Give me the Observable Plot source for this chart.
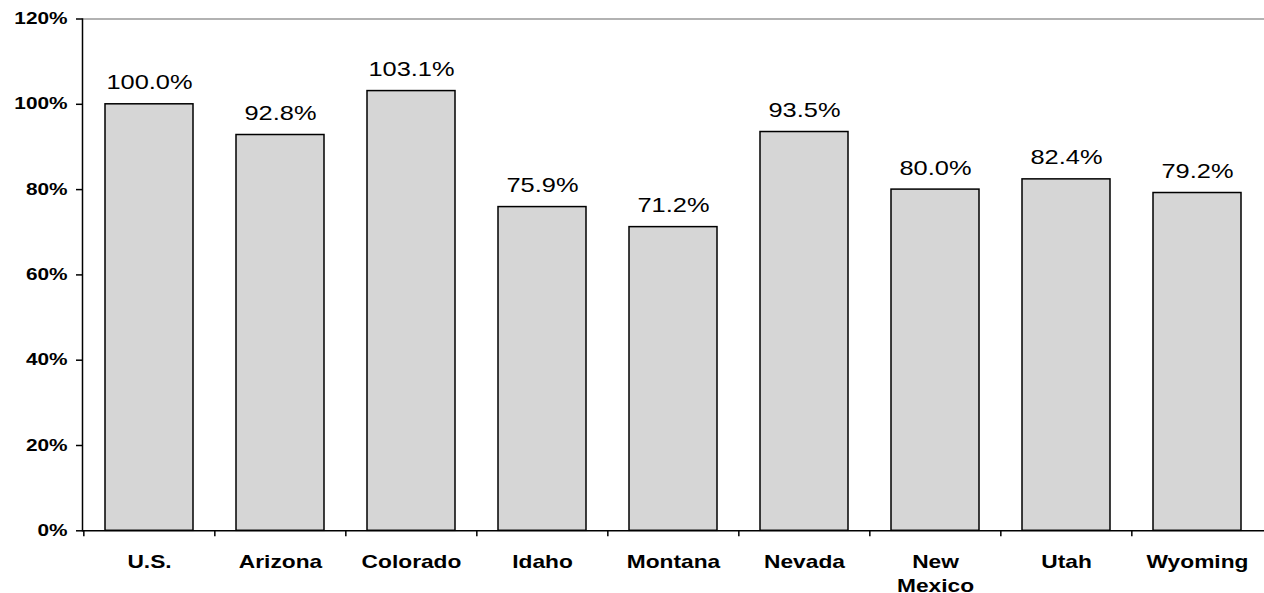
<!DOCTYPE html>
<html>
<head>
<meta charset="utf-8">
<script src="https://cdn.jsdelivr.net/npm/d3@7"></script>
<script src="https://cdn.jsdelivr.net/npm/@observablehq/plot@0.6"></script>
<style>
  html, body { margin: 0; padding: 0; background: #fff; }
  #chart svg { display: block; }
</style>
</head>
<body>
<div id="chart"></div>
<script>
const categories = ["U.S.", "Arizona", "Colorado", "Idaho", "Montana", "Nevada", "New\nMexico", "Utah", "Wyoming"];
const values = [100.0, 92.8, 103.1, 75.9, 71.2, 93.5, 80.0, 82.4, 79.2];
const yTicks = [0, 20, 40, 60, 80, 100, 120];

const data = categories.map((c, i) => ({category: c, value: values[i]}));

const W = 1264, H = 593, ML = 82, MR = 0;
const step = (W - ML - MR) / categories.length;
const font = "'Liberation Sans', Arial, sans-serif";

const chart = Plot.plot({
  width: W,
  height: H,
  marginLeft: ML,
  marginRight: MR,
  marginTop: 18.5,
  marginBottom: 62.7,
  style: {fontFamily: font, color: "#000", background: "#fff"},
  x: {domain: categories, paddingInner: 0.33, paddingOuter: 0.165, label: null},
  y: {domain: [0, 120], label: null},
  marks: [
    Plot.ruleY([120], {stroke: "#999", strokeWidth: 1.5}),
    Plot.barY(data, {x: "category", y: "value", fill: "#d6d6d6", stroke: "#000", strokeWidth: 1.5}),
    Plot.text(data, {
      x: "category", y: "value",
      text: d => d.value.toFixed(1) + "%",
      dy: -15, lineAnchor: "bottom",
      fontSize: 21, fill: "#000", className: "vlabels"
    }),
    Plot.ruleY([0], {stroke: "#000", strokeWidth: 1.5}),
    Plot.frame({anchor: "left", stroke: "#000", strokeWidth: 1.5}),
    Plot.axisY({
      ticks: yTicks, tickSize: 6, tickPadding: 9,
      tickFormat: d => d + "%",
      fontSize: 16, fontWeight: "bold", strokeWidth: 1.5
    }),
    Plot.axisX({
      tickSize: 6, dx: -step / 2, tickFormat: () => "", strokeWidth: 1.5
    }),
    Plot.axisX({
      tickSize: 0, tickPadding: 20,
      fontSize: 17.5, fontWeight: "bold", lineHeight: 1.37
    })
  ]
});
document.getElementById("chart").appendChild(chart);

// Widen glyphs horizontally (the reference font is rendered stretched)
function stretch(selector, s) {
  chart.querySelectorAll(selector).forEach(t => {
    const ax = +(t.getAttribute("x") || 0);
    const tr = t.getAttribute("transform") || "";
    t.setAttribute("transform", `${tr} translate(${ax},0) scale(${s},1) translate(${-ax},0)`);
  });
}
stretch('g[aria-label="y-axis tick label"] text', 1.3);
stretch('g[aria-label="x-axis tick label"] text', 1.3);
stretch('g[aria-label="text"] text', 1.21);
</script>
</body>
</html>
